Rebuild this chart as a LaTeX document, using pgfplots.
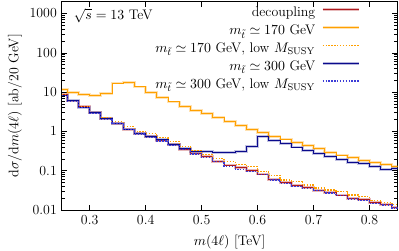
\documentclass[border=0pt]{standalone}
\usepackage{fix-cm}
\usepackage{pgfplots}
\pgfplotsset{compat=1.18}
\usepackage{pgfplotstable}
\usepackage{amssymb}
\definecolor{cdec}{RGB}{175,25,30}
\definecolor{corg}{RGB}{255,160,0}
\definecolor{cnavy}{RGB}{10,10,140}
\definecolor{cblu}{RGB}{60,60,215}

\pgfplotstableread{
x dec o170 o170low b300 b300low
0.25 8.6 11.8 8.7 8.4 8.3
0.26 5.94 9.7 6.0 6.0 5.8
0.28 4.19 8.6 4.2 4.1 4.1
0.30 3.0 8.3 3.05 3.0 2.9
0.32 2.12 9.2 2.2 2.1 2.05
0.34 1.59 17.0 1.78 1.6 1.55
0.36 1.14 17.5 1.3 1.15 1.1
0.38 0.885 13.5 1.0 0.9 0.86
0.40 0.725 9.7 0.885 0.73 0.70
0.42 0.60 7.25 0.70 0.61 0.57
0.44 0.46 5.6 0.56 0.47 0.44
0.46 0.353 4.35 0.42 0.36 0.34
0.48 0.275 3.45 0.315 0.31 0.265
0.50 0.225 2.85 0.259 0.31 0.215
0.52 0.175 2.2 0.205 0.29 0.168
0.54 0.139 1.74 0.17 0.29 0.13
0.56 0.121 1.38 0.145 0.31 0.108
0.58 0.10 1.12 0.126 0.42 0.095
0.60 0.082 0.92 0.097 0.725 0.08
0.62 0.06 0.755 0.077 0.6 0.058
0.64 0.05 0.64 0.058 0.49 0.048
0.66 0.041 0.52 0.052 0.40 0.039
0.68 0.037 0.44 0.043 0.33 0.035
0.70 0.032 0.36 0.036 0.275 0.031
0.72 0.028 0.29 0.032 0.225 0.027
0.74 0.024 0.25 0.029 0.19 0.023
0.76 0.0198 0.215 0.024 0.165 0.019
0.78 0.018 0.185 0.022 0.15 0.017
0.80 0.0153 0.16 0.017 0.127 0.0148
0.82 0.014 0.147 0.0155 0.108 0.0133
0.84 0.0117 0.13 0.0135 0.115 0.0112
0.86 0.0117 0.13 0.0135 0.115 0.0112
}\histdata

\pgfplotsset{
  bandleg/.style={legend image code/.code={
    \draw[##1, line width=2.4pt, opacity=0.3] (0bp,3bp) -- (30bp,3bp);
    \draw[##1] (0bp,3bp) -- (30bp,3bp);}},
}

\begin{document}
\fontsize{11.6}{14}\selectfont
\begin{tikzpicture}
\begin{axis}[
  scale only axis,
  width=280bp, height=173.6bp,
  ymode=log,
  xmin=0.25, xmax=0.85,
  ymin=0.01, ymax=2000,
  xtick={0.3,0.4,0.5,0.6,0.7,0.8},
  xticklabels={0.3,0.4,0.5,0.6,0.7,0.8},
  ytick={0.01,0.1,1,10,100,1000},
  yticklabels={0.01,0.1,1,10,100,1000},
  tick align=inside,
  tick pos=both,
  minor x tick num=0,
  every tick/.style={black, line width=0.4pt},
  axis line style={line width=0.6pt},
  xlabel={$m(4\ell)$ [TeV]},
  ylabel={$\mathrm{d}\sigma/\mathrm{d}m(4\ell)$ [ab/20 GeV]},
  every axis x label/.style={at={(axis description cs:0.5,-0.154)}, anchor=center},
  every axis y label/.style={at={(axis description cs:-0.139,0.5)}, rotate=90, anchor=center},
  legend plot pos=right,
  legend cell align=right,
  legend image code/.code={\draw[#1] (0bp,3bp) -- (30bp,3bp);},
  legend style={at={(axis description cs:1,1)}, anchor=north east,
    xshift=-31bp, yshift=-2.5bp, draw=none, fill=none, inner sep=0pt,
    row sep=1.1bp, column sep=4bp,
    nodes={inner sep=1bp, text height=8.8bp, text depth=3bp}},
  clip=true,
]
% bands
\addplot[const plot, draw=cdec, line width=2.4pt, opacity=0.3, forget plot] table[x=x,y=dec] {\histdata};
\addplot[const plot, draw=corg, line width=2.4pt, opacity=0.3, forget plot] table[x=x,y=o170] {\histdata};
\addplot[const plot, draw=cnavy, line width=2.4pt, opacity=0.25, forget plot] table[x=x,y=b300] {\histdata};
% lines
\addplot[const plot, draw=cdec, line width=0.8pt, bandleg] table[x=x,y=dec] {\histdata};
\addlegendentry{decoupling}
\addplot[const plot, draw=corg, line width=0.8pt, bandleg] table[x=x,y=o170] {\histdata};
\addlegendentry{$m_{\tilde t}\simeq 170$ GeV}
\addplot[const plot, draw=corg, line width=1pt, dash pattern=on 1.2pt off 1.2pt] table[x=x,y=o170low] {\histdata};
\addlegendentry{$m_{\tilde t}\simeq 170$ GeV, low $M_{\mathrm{SUSY}}$}
\addplot[const plot, draw=cnavy, line width=0.8pt, bandleg] table[x=x,y=b300] {\histdata};
\addlegendentry{$m_{\tilde t}\simeq 300$ GeV}
\addplot[const plot, draw=cblu, line width=1pt, dash pattern=on 1.2pt off 1.2pt] table[x=x,y=b300low] {\histdata};
\addlegendentry{$m_{\tilde t}\simeq 300$ GeV, low $M_{\mathrm{SUSY}}$}
\node[anchor=base west, inner sep=0pt] at ([xshift=10bp,yshift=-15bp]rel axis cs:0,1) {$\sqrt{s}=13$ TeV};
\end{axis}
\pgfresetboundingbox
\path ([shift={(-51.4bp,-34.2bp)}]current axis.south west) rectangle ([shift={(1.2bp,1.4bp)}]current axis.north east);
\end{tikzpicture}
\end{document}
